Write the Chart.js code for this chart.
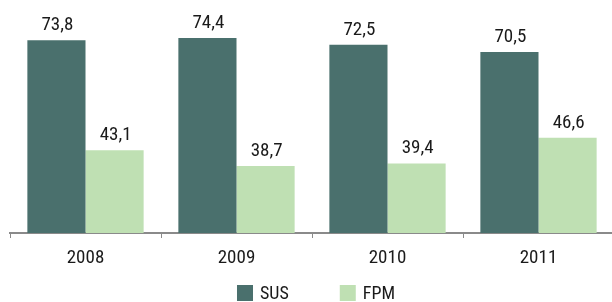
<!DOCTYPE html>
<html>
<head>
<meta charset="utf-8">
<script src="https://cdn.jsdelivr.net/npm/chart.js@4/dist/chart.umd.min.js"></script>
<style>
  html, body { margin: 0; padding: 0; background: #fff; overflow: hidden; }
  #wrap { width: 616px; height: 302px; }
</style>
</head>
<body>
<div id="wrap"><canvas id="chart"></canvas></div>
<script>
const years = ["2008", "2009", "2010", "2011"];
const susValues = [73.8, 74.4, 72.5, 70.5];
const fpmValues = [43.1, 38.7, 39.4, 46.6];

// Roboto with condensed stretch is the closest to the narrow face of the original
const FAMILY = "Roboto, 'Liberation Sans', sans-serif";
const TEXT = "#1a1a1a";

// Value labels above each bar, comma as decimal separator
const valueLabels = {
  id: "valueLabels",
  afterDatasetsDraw(chart) {
    const ctx = chart.ctx;
    ctx.save();
    ctx.font = "condensed 19px " + FAMILY;
    ctx.fillStyle = TEXT;
    ctx.textAlign = "center";
    ctx.textBaseline = "alphabetic";
    chart.data.datasets.forEach((ds, i) => {
      chart.getDatasetMeta(i).data.forEach((bar, j) => {
        const txt = ds.data[j].toFixed(1).replace(".", ",");
        ctx.fillText(txt, bar.x + 1, bar.y - 10);
      });
    });
    ctx.restore();
  },
};

// Legend at the bottom
const bottomLegend = {
  id: "bottomLegend",
  afterDraw(chart) {
    const ctx = chart.ctx;
    const box = 16, gap = 7, between = 51;
    ctx.save();
    ctx.font = "condensed 18px " + FAMILY;
    const items = chart.data.datasets.map((ds) => ({
      label: ds.label,
      color: ds.backgroundColor,
      w: box + gap + ctx.measureText(ds.label).width,
    }));
    const total = items.reduce((s, it) => s + it.w, 0) + between * (items.length - 1);
    let x = (chart.chartArea.left + chart.chartArea.right) / 2 + 4 - total / 2;
    const top = 285;
    items.forEach((it) => {
      ctx.fillStyle = it.color;
      ctx.fillRect(x, top, box, box);
      ctx.fillStyle = TEXT;
      ctx.textBaseline = "middle";
      ctx.fillText(it.label, x + box + gap, top + box / 2 + 1);
      x += it.w + between;
    });
    ctx.restore();
  },
};

new Chart(document.getElementById("chart"), {
  type: "bar",
  data: {
    labels: years,
    datasets: [
      { label: "SUS", data: susValues, backgroundColor: "#4a706d" },
      { label: "FPM", data: fpmValues, backgroundColor: "#bfe0b3" },
    ],
  },
  options: {
    responsive: true,
    maintainAspectRatio: false,
    animation: false,
    layout: { padding: { left: 10, right: 2, top: 0, bottom: 0 } },
    datasets: {
      bar: { categoryPercentage: 0.77, barPercentage: 1.0 },
    },
    plugins: {
      legend: { display: false },
      tooltip: { enabled: false },
    },
    scales: {
      x: {
        grid: {
          drawOnChartArea: false,
          drawTicks: true,
          tickLength: 5,
          color: "#8a8a8a",
          lineWidth: 1,
        },
        border: { display: true, color: "#8a8a8a", width: 2 },
        ticks: {
          color: TEXT,
          // weight slot carries the stretch keyword into the canvas font string
          font: { family: FAMILY, size: 19, weight: "condensed" },
          padding: 9,
        },
        afterFit(scale) {
          scale.height = 69;
        },
      },
      y: {
        display: false,
        min: 20,
        max: 85,
      },
    },
  },
  plugins: [valueLabels, bottomLegend],
});
</script>
</body>
</html>
